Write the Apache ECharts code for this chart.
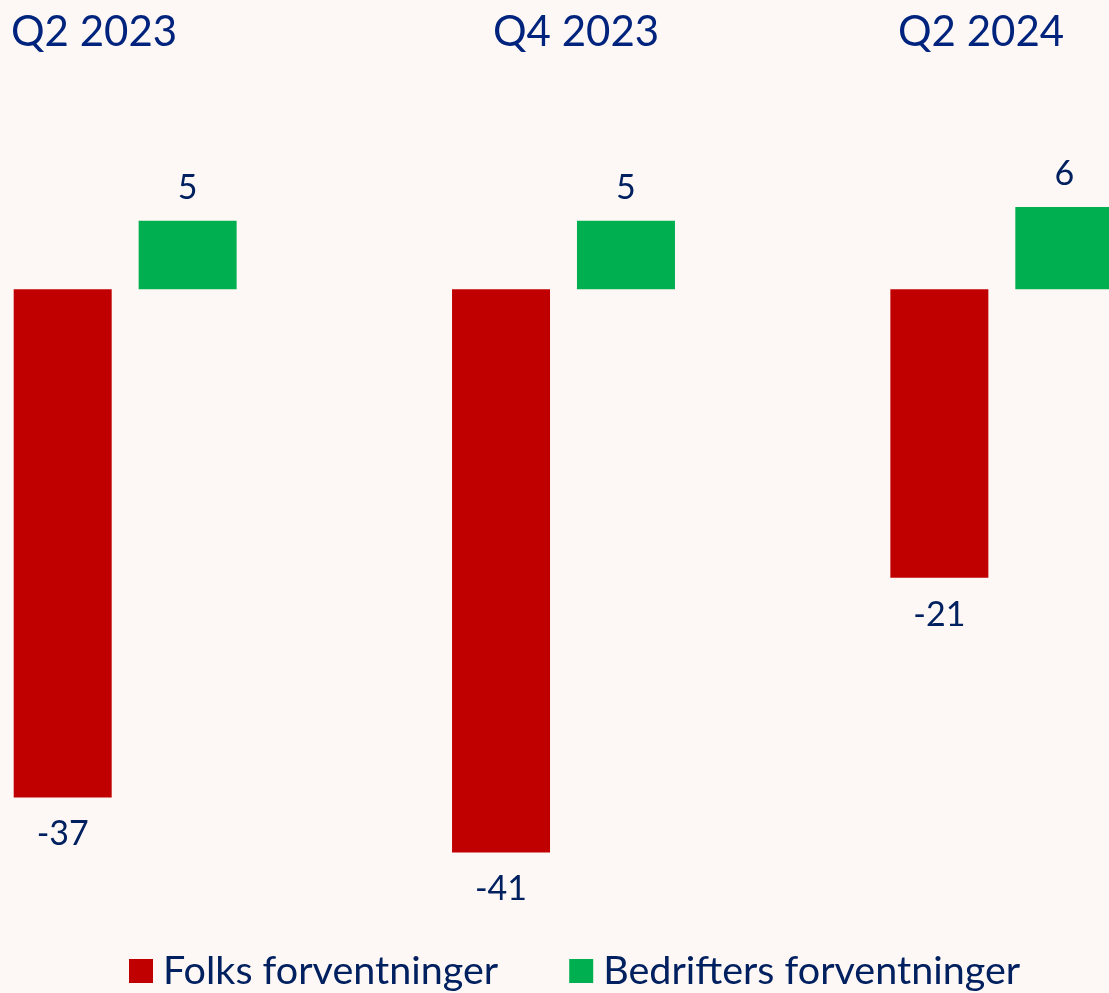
<!DOCTYPE html>
<html>
<head>
<meta charset="utf-8">
<script src="https://cdn.jsdelivr.net/npm/echarts@6/dist/echarts.min.js"></script>
<style>
  html, body { margin: 0; padding: 0; background: #fdf8f5; }
  #chart { width: 1109px; height: 993px; }
</style>
</head>
<body>
<div id="chart"></div>
<script>
// kategorier og verdier
var categories = ["Q2 2023", "Q4 2023", "Q2 2024"];
var seriesNames = ["Folks forventninger", "Bedrifters forventninger"];
var folks = [-37, -41, -21];
var bedrifter = [5, 5, 6];

var colors = ["#c00000", "#00b050"];
var textColor = "#002060";
var font = "Lato";

// overskrifter over hver gruppe
var titleLeft = [6, 488, 893];
var titleArr = categories.map(function (name, i) {
  return {
    text: name,
    left: titleLeft[i],
    top: 6,
    textStyle: {
      fontFamily: font,
      fontSize: 42,
      fontWeight: "normal",
      color: "#00247d"
    }
  };
});

var option = {
  backgroundColor: "#fdf8f5",
  animation: false,
  title: titleArr,
  legend: {
    data: seriesNames,
    left: 129,
    top: 951,
    padding: 0,
    icon: "rect",
    itemWidth: 24,
    itemHeight: 24,
    itemGap: 71,
    textStyle: {
      fontFamily: font,
      fontSize: 39.5,
      color: textColor,
      padding: [0, 0, 0, 5]
    }
  },
  grid: {
    left: -94,
    right: -112,
    top: 152,
    height: 824,
    outerBoundsMode: "none",
    containLabel: false
  },
  xAxis: {
    type: "category",
    data: categories,
    show: false
  },
  yAxis: {
    type: "value",
    min: -50,
    max: 10,
    show: false,
    splitLine: { show: false }
  },
  series: [
    {
      name: seriesNames[0],
      type: "bar",
      data: folks,
      barWidth: 98,
      barGap: "27.5%",
      itemStyle: { color: colors[0] },
      label: {
        show: true,
        position: "bottom",
        distance: 20,
        fontFamily: font,
        fontSize: 34,
        color: textColor
      }
    },
    {
      name: seriesNames[1],
      type: "bar",
      data: bedrifter,
      barWidth: 98,
      barGap: "27.5%",
      itemStyle: { color: colors[1] },
      label: {
        show: true,
        position: "top",
        distance: 16,
        fontFamily: font,
        fontSize: 34,
        color: textColor
      }
    }
  ]
};

var myChart = echarts.init(document.getElementById("chart"), null, { renderer: "canvas" });
myChart.setOption(option);
</script>
</body>
</html>
